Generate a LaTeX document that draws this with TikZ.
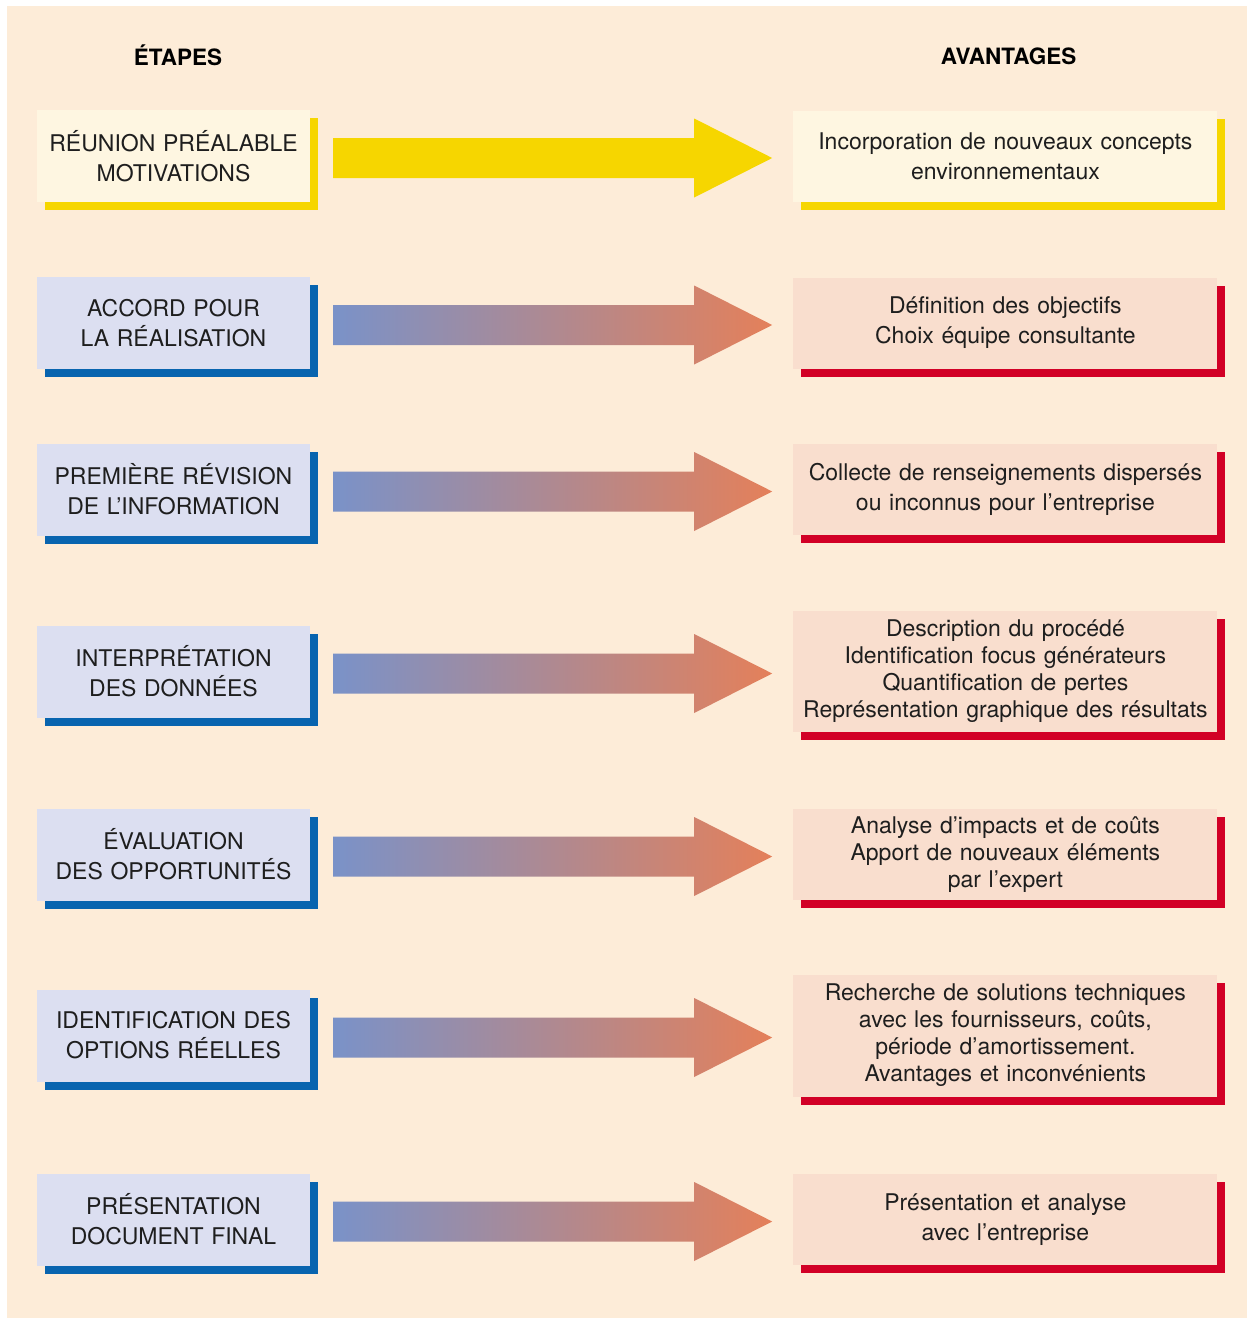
\documentclass[tikz,border=0pt]{standalone}
\usepackage{fontspec}
\setmainfont{TeX Gyre Heros}
\usetikzlibrary{
    positioning,
    calc,
    shadows
}
\definecolor{pagecol}{HTML}{FDECD8}
\definecolor{textcol}{HTML}{1E1E1E}
\definecolor{firstcol}{HTML}{FEF6E1}
\definecolor{yellowcol}{HTML}{F6D600}
\definecolor{stepcol}{HTML}{DCDFF1}
\definecolor{stepshade}{HTML}{0864AF}
\definecolor{gaincol}{HTML}{F9DECE}
\definecolor{gainshade}{HTML}{D20026}
\definecolor{arrowleft}{HTML}{7A92C8}
\definecolor{arrowright}{HTML}{E4805A}

% block arrow: #1 start of shaft, #2 tip, #3 fill style
\newcommand{\blockarrow}[3]{%
    \path[#3] ($(#1)+(0,-20)$) -- ($(#2)+(-78,-20)$) -- ($(#2)+(-78,-39.5)$)
        -- (#2) -- ($(#2)+(-78,39.5)$) -- ($(#2)+(-78,20)$)
        -- ($(#1)+(0,20)$) -- cycle;}

\begin{document}
\begin{tikzpicture}[
    x=1pt, y=-1pt,
    font=\fontsize{23}{30}\selectfont,
    boxshape/.style={
        inner sep=0pt, align=center, text=textcol
    },
    stepshape/.style={
        boxshape, minimum width=273pt, minimum height=92pt, text width=270pt
    },
    gainshape/.style={
        boxshape, minimum width=424pt, minimum height=91pt, text width=420pt
    },
    stepbox/.style={
        stepshape, fill=stepcol,
        general shadow={fill=stepshade, shadow xshift=8pt, shadow yshift=-8pt}
    },
    gainbox/.style={
        gainshape, fill=gaincol,
        general shadow={fill=gainshade, shadow xshift=8pt, shadow yshift=-8pt}
    },
    firststep/.style={
        stepshape, fill=firstcol,
        general shadow={fill=yellowcol, shadow xshift=8pt, shadow yshift=-8pt}
    },
    firstgain/.style={
        gainshape, fill=firstcol,
        general shadow={fill=yellowcol, shadow xshift=8pt, shadow yshift=-8pt}
    },
    header/.style={
        anchor=base, text=black, font=\fontsize{22.5}{27}\selectfont\bfseries
    },
    firstarrow/.style={fill=yellowcol},
    fadearrow/.style={left color=arrowleft, right color=arrowright},
]

\useasboundingbox (0,0) rectangle (1247,1318);
\fill[pagecol] (7,6) rectangle (1247,1318);

% ── Headers ──
\node[header] (hsteps) at (178, 65) {ÉTAPES};
\node[header] (hgains) at (1008.5, 64) {AVANTAGES};

% ── Steps (left column) ──
\node[firststep] (l1) at (173.5, 156) {RÉUNION PRÉALABLE\\MOTIVATIONS};
\node[stepbox] (l2) at (173.5, 323) {ACCORD POUR\\LA RÉALISATION};
\node[stepbox] (l3) at (173.5, 489.5) {PREMIÈRE RÉVISION\\DE L’INFORMATION};
\node[stepbox] (l4) at (173.5, 671.5) {INTERPRÉTATION\\DES DONNÉES};
\node[stepbox] (l5) at (173.5, 854.5) {ÉVALUATION\\DES OPPORTUNITÉS};
\node[stepbox] (l6) at (173.5, 1035.5) {IDENTIFICATION DES\\OPTIONS RÉELLES};
\node[stepbox] (l7) at (173.5, 1219.5) {PRÉSENTATION\\DOCUMENT FINAL};

% ── Advantages (right column) ──
\node[firstgain, right=483pt of l1] (r1) {Incorporation de nouveaux concepts\\environnementaux};
\node[gainbox, right=483pt of l2] (r2) {Définition des objectifs\\Choix équipe consultante};
\node[gainbox, right=483pt of l3] (r3) {Collecte de renseignements dispersés\\ou inconnus pour l’entreprise};
\node[gainbox, minimum height=121pt, font=\fontsize{23}{27}\selectfont,
      right=483pt of l4] (r4) {Description du procédé\\Identification focus générateurs\\Quantification de pertes\\Représentation graphique des résultats};
\node[gainbox, font=\fontsize{23}{27}\selectfont,
      right=483pt of l5] (r5) {Analyse d’impacts et de coûts\\Apport de nouveaux éléments\\par l’expert};
\node[gainbox, minimum height=122pt, font=\fontsize{23}{27}\selectfont,
      right=483pt of l6] (r6) {Recherche de solutions techniques\\avec les fournisseurs, coûts,\\période d’amortissement.\\Avantages et inconvénients};
\node[gainbox, right=483pt of l7] (r7) {Présentation et analyse\\avec l’entreprise};

% ── Arrows ──
\coordinate (a1) at ($(l1.east)+(23,2)$);  \coordinate (b1) at ($(r1.west)+(-21,2)$);
\coordinate (a2) at ($(l2.east)+(23,2)$);  \coordinate (b2) at ($(r2.west)+(-21,2)$);
\coordinate (a3) at ($(l3.east)+(23,2)$);  \coordinate (b3) at ($(r3.west)+(-21,2)$);
\coordinate (a4) at ($(l4.east)+(23,2)$);  \coordinate (b4) at ($(r4.west)+(-21,2)$);
\coordinate (a5) at ($(l5.east)+(23,2)$);  \coordinate (b5) at ($(r5.west)+(-21,2)$);
\coordinate (a6) at ($(l6.east)+(23,2)$);  \coordinate (b6) at ($(r6.west)+(-21,2)$);
\coordinate (a7) at ($(l7.east)+(23,2)$);  \coordinate (b7) at ($(r7.west)+(-21,2)$);

\blockarrow{a1}{b1}{firstarrow}
\blockarrow{a2}{b2}{fadearrow}
\blockarrow{a3}{b3}{fadearrow}
\blockarrow{a4}{b4}{fadearrow}
\blockarrow{a5}{b5}{fadearrow}
\blockarrow{a6}{b6}{fadearrow}
\blockarrow{a7}{b7}{fadearrow}

\end{tikzpicture}
\end{document}
